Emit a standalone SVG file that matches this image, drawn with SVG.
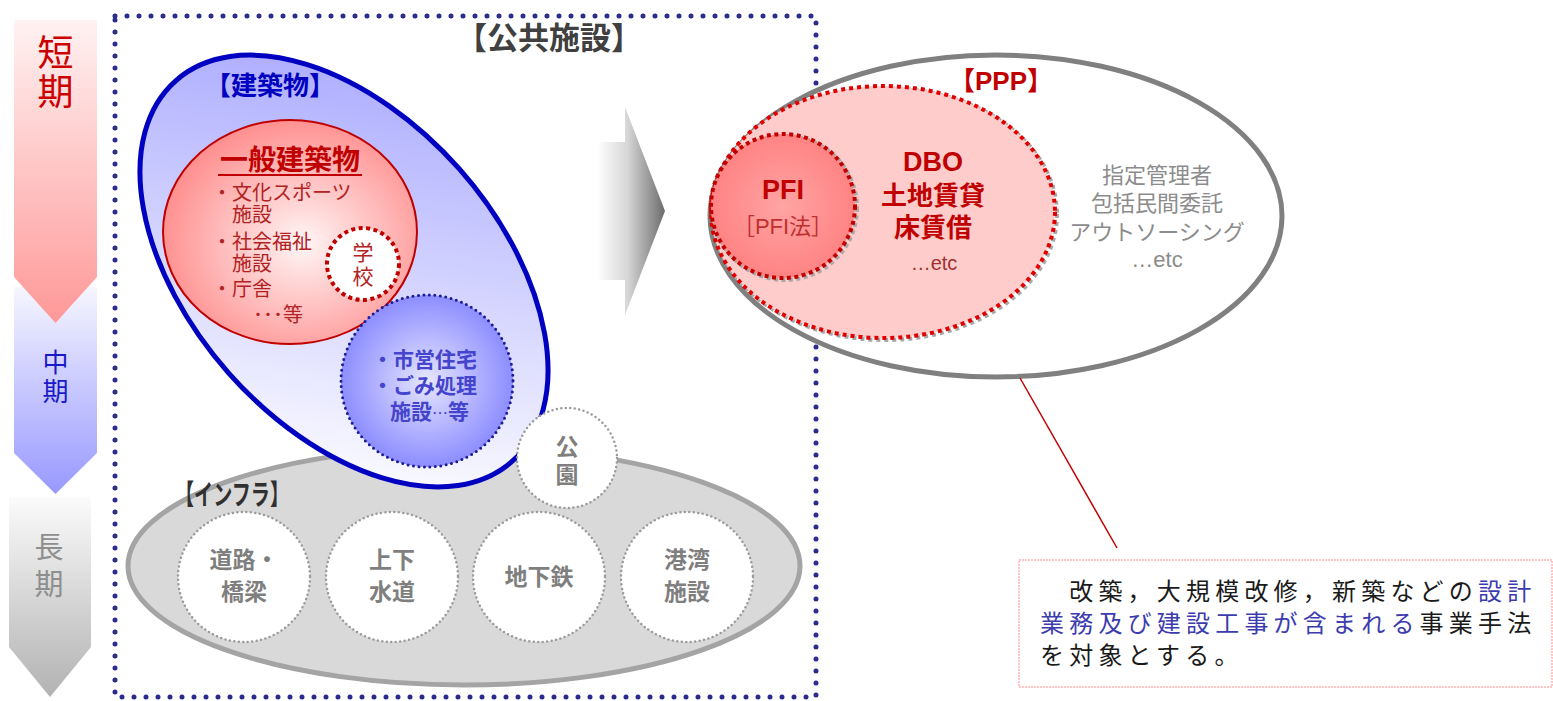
<svg xmlns="http://www.w3.org/2000/svg" width="1553" height="701" viewBox="0 0 1553 701">
<defs>
<linearGradient id="gRed" x1="0" y1="0" x2="0" y2="1"><stop offset="0" stop-color="#fff2f2"/><stop offset="1" stop-color="#ff9898"/></linearGradient>
<linearGradient id="gBlue" x1="0" y1="0" x2="0" y2="1"><stop offset="0" stop-color="#f6f6ff"/><stop offset="1" stop-color="#9898ff"/></linearGradient>
<linearGradient id="gGray" x1="0" y1="0" x2="0" y2="1"><stop offset="0" stop-color="#fbfbfb"/><stop offset="1" stop-color="#b2b2b2"/></linearGradient>
<linearGradient id="gBldg" gradientUnits="userSpaceOnUse" x1="190" y1="90" x2="480" y2="460"><stop offset="0" stop-color="#a8a8ff"/><stop offset="0.45" stop-color="#cfcfff"/><stop offset="1" stop-color="#ffffff"/></linearGradient>
<radialGradient id="gRedC" cx="0.55" cy="0.55" r="0.6"><stop offset="0" stop-color="#fff6f6"/><stop offset="1" stop-color="#ff8888"/></radialGradient>
<radialGradient id="gBlueC" cx="0.5" cy="0.5" r="0.55"><stop offset="0" stop-color="#e6e6ff"/><stop offset="1" stop-color="#8484ff"/></radialGradient>
<radialGradient id="gPFI" cx="0.5" cy="0.5" r="0.55"><stop offset="0" stop-color="#ffa4a4"/><stop offset="1" stop-color="#ff8080"/></radialGradient>
<linearGradient id="gBig" gradientUnits="userSpaceOnUse" x1="597" y1="0" x2="665" y2="0"><stop offset="0" stop-color="#ffffff"/><stop offset="0.45" stop-color="#d6d6d6"/><stop offset="1" stop-color="#6c6c6c"/></linearGradient>
<style>
.jp{font-family:"Noto Sans CJK JP","Noto Sans",sans-serif}
.lat{font-family:"Liberation Sans","Noto Sans CJK JP",sans-serif}
.b{font-weight:700}
.c{text-anchor:middle}
.list{font-size:20px;fill:#b22222}
.infra{font-size:23px;fill:#7f7f7f;font-weight:700}
.igc{fill:#ffffff;stroke:#9a9a9a;stroke-width:2.5;stroke-dasharray:0 4.5;stroke-linecap:round}
.gray{font-size:22px;fill:#8c8c8c}
.call{font-size:24px;fill:#1a1a1a;letter-spacing:5.2px}
.blu{fill:#3c3cae}
</style>
</defs>
<rect width="1553" height="701" fill="#ffffff"/>

<g id="time-axis">
<path d="M9,497 H91 V647 L50,697 L9,647 Z" fill="url(#gGray)"/>
<path d="M14,287 H97 V453 L55.5,494 L14,453 Z" fill="url(#gBlue)"/>
<path d="M14,20 H97 V277 L55.5,323 L14,277 Z" fill="url(#gRed)"/>
<g class="jp c" fill="#cc0000" font-size="36">
<text x="55.5" y="66">短</text>
<text x="55.5" y="105">期</text>
</g>
<g class="jp c" fill="#1a1ac8" font-size="26">
<text x="55.5" y="372">中</text>
<text x="55.5" y="401">期</text>
</g>
<g class="jp c" fill="#8e8e8e" font-size="29">
<text x="49" y="558">長</text>
<text x="49" y="595">期</text>
</g>
</g>

<g id="public-facilities">
<rect x="115" y="16" width="701" height="681" fill="none" stroke="#2b2b8c" stroke-width="5" stroke-dasharray="0 12" stroke-linecap="round"/>
<text class="jp b c" x="549" y="49" font-size="31" fill="#404040">【公共施設】</text>
</g>

<g id="infra">
<ellipse cx="464" cy="566" rx="336" ry="119" fill="#d9d9d9" stroke="#a4a4a4" stroke-width="5"/>
<text class="jp b" x="175" y="505" font-size="28" fill="#303030" textLength="114" lengthAdjust="spacingAndGlyphs">【インフラ】</text>
</g>
<g id="road">
<ellipse class="igc" cx="244" cy="577" rx="66" ry="65"/>
<text class="jp infra c" x="244" y="568">道路・</text>
<text class="jp infra c" x="244" y="600">橋梁</text>
</g>
<g id="water">
<ellipse class="igc" cx="392" cy="577" rx="66" ry="65"/>
<text class="jp infra c" x="392" y="568">上下</text>
<text class="jp infra c" x="392" y="600">水道</text>
</g>
<g id="subway">
<ellipse class="igc" cx="539" cy="577" rx="66" ry="65"/>
<text class="jp infra c" x="539" y="585">地下鉄</text>
</g>
<g id="port">
<ellipse class="igc" cx="687" cy="577" rx="66" ry="65"/>
<text class="jp infra c" x="687" y="568">港湾</text>
<text class="jp infra c" x="687" y="600">施設</text>
</g>

<g id="buildings">
<ellipse cx="344" cy="271" rx="254" ry="154" transform="rotate(48.5 344 271)" fill="url(#gBldg)" stroke="#0000c0" stroke-width="5"/>
<text class="jp b c" x="270" y="95" font-size="26" fill="#0000c0">【建築物】</text>
</g>

<g id="general-buildings">
<ellipse cx="290" cy="232" rx="127" ry="112" fill="url(#gRedC)" stroke="#c00000" stroke-width="2"/>
<text class="jp b c" x="290" y="170" font-size="28" fill="#c00000">一般建築物</text>
<line x1="218" y1="175" x2="362" y2="175" stroke="#c00000" stroke-width="2"/>
<text class="jp list" x="212" y="200">・文化スポーツ</text>
<text class="jp list" x="232" y="222">施設</text>
<text class="jp list" x="212" y="249">・社会福祉</text>
<text class="jp list" x="232" y="271">施設</text>
<text class="jp list" x="212" y="296">・庁舎</text>
<text class="jp list" x="253" y="322">･･･等</text>
</g>

<g id="school">
<circle cx="363" cy="264" r="36" fill="#ffffff" stroke="#c00000" stroke-width="4" stroke-dasharray="4 3.5"/>
<text class="jp c" x="363" y="260" font-size="21" fill="#b22222">学</text>
<text class="jp c" x="363" y="284" font-size="21" fill="#b22222">校</text>
</g>

<g id="housing">
<circle cx="427" cy="381" r="86" fill="url(#gBlueC)" stroke="#1c1c96" stroke-width="3" stroke-dasharray="0 5.5" stroke-linecap="round"/>
<g class="jp" font-size="21" fill="#4444cc">
<text class="b" x="372" y="367">・市営住宅</text>
<text class="b" x="372" y="393">・ごみ処理</text>
<text x="390" y="419"><tspan font-weight="700">施設</tspan><tspan font-size="16">…</tspan><tspan font-weight="700">等</tspan></text>
</g>
</g>

<g id="park">
<circle class="igc" cx="567" cy="458" r="50"/>
<text class="jp infra c" x="567" y="455" font-size="22">公</text>
<text class="jp infra c" x="567" y="483" font-size="22">園</text>
</g>

<g id="transition-arrow">
<path d="M597,142 H625 V107 L665,211 L625,315 V280 H597 Z" fill="url(#gBig)"/>
</g>

<g id="ppp-outer">
<ellipse cx="996" cy="216" rx="286" ry="161" fill="#ffffff" stroke="#808080" stroke-width="5"/>
<text class="gray jp c" x="1157" y="183">指定管理者</text>
<text class="gray jp c" x="1157" y="211">包括民間委託</text>
<text class="gray jp c" x="1157" y="240">アウトソーシング</text>
<text class="gray lat c" x="1157" y="267">…etc</text>
</g>

<g id="ppp">
<ellipse cx="885" cy="214" rx="172" ry="126" fill="none" stroke="#a8a8a8" stroke-width="4" stroke-dasharray="4 4"/>
<ellipse cx="883" cy="212" rx="172" ry="126" fill="#ffcccc" stroke="#e00000" stroke-width="4" stroke-dasharray="4 4"/>
<text class="lat b c" x="1001" y="90" font-size="26" fill="#c00000">【PPP】</text>
<text class="lat b c" x="933" y="171" font-size="27" fill="#c00000">DBO</text>
<text class="jp b c" x="933" y="205" font-size="26" fill="#c00000">土地賃貸</text>
<text class="jp b c" x="933" y="237" font-size="26" fill="#c00000">床賃借</text>
<text class="lat c" x="934" y="270" font-size="20" fill="#a03030">…etc</text>
</g>

<g id="pfi">
<circle cx="785" cy="208" r="72" fill="none" stroke="#a8a8a8" stroke-width="4" stroke-dasharray="4 3.5"/>
<circle cx="783" cy="206" r="72" fill="url(#gPFI)" stroke="#c00000" stroke-width="4" stroke-dasharray="4 3.5"/>
<text class="lat b c" x="783" y="199" font-size="27" fill="#c00000">PFI</text>
<text class="lat c" x="783" y="234" font-size="22" fill="#c03030">［PFI法］</text>
</g>

<g id="connectors">
<line x1="1020" y1="378" x2="1117" y2="548" stroke="#c00000" stroke-width="1.5"/>
</g>

<g id="note">
<rect x="1019" y="560" width="533" height="127" fill="#ffffff" stroke="#ff8c8c" stroke-width="1" stroke-dasharray="2 1"/>
<text class="jp call" x="1040" y="600">　改築，大規模改修，新築などの<tspan class="blu">設計</tspan></text>
<text class="jp call" x="1040" y="632"><tspan class="blu">業務及び建設工事が含まれる</tspan>事業手法</text>
<text class="jp call" x="1040" y="664">を対象とする。</text>
</g>
</svg>
